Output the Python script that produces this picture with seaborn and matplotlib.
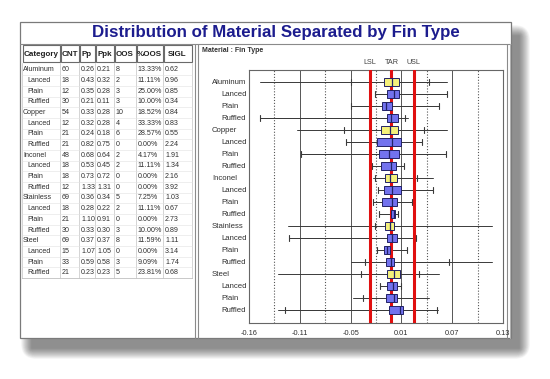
import numpy as np
import pandas as pd
import matplotlib
matplotlib.use("Agg")
import matplotlib.pyplot as plt
import seaborn as sns
from matplotlib.patches import Rectangle, FancyBboxPatch

# ---------------- data ----------------
categories = ["Aluminum", "Lanced", "Plain", "Ruffled",
              "Copper", "Lanced", "Plain", "Ruffled",
              "Inconel", "Lanced", "Plain", "Ruffled",
              "Stainless", "Lanced", "Plain", "Ruffled",
              "Steel", "Lanced", "Plain", "Ruffled"]
is_material = [True, False, False, False] * 5

cnt = [60, 18, 12, 30, 54, 12, 21, 21, 48, 18, 18, 12, 69, 18, 21, 30, 69, 15, 33, 21]
pp = ["0.26", "0.43", "0.35", "0.21", "0.33", "0.32", "0.24", "0.82", "0.68", "0.53",
      "0.73", "1.33", "0.36", "0.28", "1.10", "0.33", "0.37", "1.07", "0.59", "0.23"]
ppk = ["0.21", "0.32", "0.28", "0.11", "0.28", "0.28", "0.18", "0.75", "0.64", "0.45",
       "0.72", "1.31", "0.34", "0.22", "0.91", "0.30", "0.37", "1.05", "0.58", "0.23"]
oos = [8, 2, 3, 3, 10, 4, 6, 0, 2, 2, 0, 0, 5, 2, 0, 3, 8, 0, 3, 5]
pct_oos = ["13.33%", "11.11%", "25.00%", "10.00%", "18.52%", "33.33%", "28.57%", "0.00%",
           "4.17%", "11.11%", "0.00%", "0.00%", "7.25%", "11.11%", "0.00%", "10.00%",
           "11.59%", "0.00%", "9.09%", "23.81%"]
sigl = ["0.62", "0.96", "0.85", "0.34", "0.84", "0.83", "0.55", "2.24", "1.91", "1.34",
        "2.16", "3.92", "1.03", "0.67", "2.73", "0.89", "1.11", "3.14", "1.74", "0.68"]
table_header = ["Category", "CNT", "Pp", "Ppk", "OOS", "%OOS", "SIGL"]

range_lo = [-0.147, -0.016, -0.044, -0.147, -0.105, -0.049, -0.101, -0.020, -0.018, -0.013,
            -0.018, -0.012, -0.115, -0.114, -0.014, -0.044, -0.127, -0.011, -0.041, -0.127]
range_hi = [0.066, 0.066, 0.057, 0.022, 0.066, 0.037, 0.065, 0.017, 0.050, 0.050,
            0.026, 0.010, 0.117, 0.031, 0.020, 0.117, 0.057, 0.013, 0.046, 0.056]
cap_lo = [-0.044, -0.016, -0.044, -0.147, -0.052, -0.049, -0.101, -0.019, -0.016, -0.013,
          -0.018, -0.012, -0.016, -0.114, -0.014, -0.028, -0.032, -0.011, -0.030, -0.119]
cap_hi = [0.046, 0.066, 0.057, 0.018, 0.040, 0.037, 0.065, 0.017, 0.032, 0.050,
          0.026, 0.010, 0.027, 0.031, 0.020, 0.068, 0.034, 0.013, 0.028, 0.055]
q1 = [-0.006, -0.002, -0.008, -0.003, -0.009, -0.014, -0.012, -0.0095, -0.005, -0.006,
      -0.008, 0.002, -0.005, -0.002, -0.006, -0.004, -0.002, -0.002, -0.004, 0.000]
q3 = [0.011, 0.011, 0.0034, 0.010, 0.010, 0.014, 0.011, 0.008, 0.009, 0.014,
      0.009, 0.007, 0.006, 0.009, 0.001, 0.006, 0.012, 0.009, 0.009, 0.016]
median = [0.003, 0.006, -0.004, 0.002, 0.0015, 0.003, 0.000, 0.002, 0.001, 0.003,
          0.003, 0.005, 0.001, 0.003, -0.002, 0.002, 0.005, 0.004, 0.005, 0.012]

spec_names = ["LSL", "TAR", "USL"]
spec_values = [-0.022, 0.0026, 0.028]

x_ticks = list(np.linspace(-0.16, 0.13, 6))
x_tick_labels = ["-0.16", "-0.11", "-0.05", "0.01", "0.07", "0.13"]

title = "Distribution of Material Separated by Fin Type"

# ---------------- style ----------------
sns.set_style("white")
plt.rcParams["font.family"] = ["Liberation Sans", "DejaVu Sans"]

W, H = 550, 379
fig = plt.figure(figsize=(W / 100, H / 100), dpi=100)
fig.patch.set_facecolor("white")

bg = fig.add_axes([0, 0, 1, 1], zorder=0)
bg.set_xlim(0, W)
bg.set_ylim(H, 0)
bg.axis("off")

# window + soft shadow (offset to lower right)
L, T, R, B = 20, 22, 511, 338
for i in range(22, 0, -1):
    bg.add_patch(FancyBboxPatch((L + 12 - i * 0.5, T + 14 - i * 0.5),
                                R - L - 4 + i * 1.0, B - T - 4 + i * 1.0,
                                boxstyle="round,pad=0,rounding_size=%g" % (i * 0.7),
                                facecolor="black", alpha=0.022, edgecolor="none"))
bg.add_patch(Rectangle((L, T), R - L, B - T, facecolor="white", edgecolor="#7a7a7a", lw=0.9))

# title
bg.text((L + R) / 2 + 10, 33, title, ha="center", va="center", fontsize=12.2,
        fontweight="bold", color="#1c1c8e")
bg.plot([L, R], [43.5, 43.5], color="#8a8a8a", lw=0.8)

# panel separators
bg.plot([195, 195], [43.5, B], color="#8a8a8a", lw=0.8)
bg.plot([197.5, 197.5], [43.5, B], color="#8a8a8a", lw=0.8)
bg.plot([507, 507], [43.5, B], color="#8a8a8a", lw=0.8)
bg.plot([509.5, 509.5], [43.5, B], color="#b0b0b0", lw=0.8)

# ---------------- table ----------------
col_edges = [22, 60, 79, 95, 114, 136, 163, 192]
hdr_top, hdr_bot = 45, 62
row_y0, row_dy = 69.8, 10.68
for j, h in enumerate(table_header):
    x0, x1 = col_edges[j], col_edges[j + 1]
    bg.add_patch(Rectangle((x0 + 0.5, hdr_top), x1 - x0 - 1, hdr_bot - hdr_top,
                           facecolor="white", edgecolor="#6a6a6a", lw=0.8))
    bg.text((x0 + x1) / 2, (hdr_top + hdr_bot) / 2 + 0.5, h, ha="center", va="center",
            fontsize=5.8, fontweight="bold", color="#202020")
tab_bottom = row_y0 + 19.5 * row_dy
for e in col_edges:
    bg.plot([e, e], [hdr_bot + 1, tab_bottom], color="#c4c4c4", lw=0.5)
bg.plot([col_edges[0], col_edges[-1]], [tab_bottom, tab_bottom], color="#9a9a9a", lw=0.6)
for i in range(20):
    yy = row_y0 + i * row_dy
    bg.plot([col_edges[0], col_edges[-1]], [yy + row_dy / 2, yy + row_dy / 2],
            color="#e2e2e2", lw=0.4)
    name_x = col_edges[0] + (1 if is_material[i] else 5)
    vals = [str(cnt[i]), pp[i], ppk[i], str(oos[i]), pct_oos[i], sigl[i]]
    bg.text(name_x, yy, categories[i], ha="left", va="center", fontsize=5.1, color="#303030")
    for j, v in enumerate(vals):
        bg.text(col_edges[j + 1] + 2, yy, v, ha="left", va="center", fontsize=5.1,
                color="#303030")

# ---------------- plot panel ----------------
bg.text(202, 50, "Material : Fin Type", ha="left", va="center", fontsize=5,
        fontweight="bold", color="#303030")

px0, px1, py0, py1 = 249, 503, 70, 323
ax = fig.add_axes([px0 / W, 1 - py1 / H, (px1 - px0) / W, (py1 - py0) / H], zorder=2)
ax.set_facecolor("none")
rows = np.arange(len(categories))
ax.set_xlim(-0.16, 0.13)
ax.set_ylim(20.08, -1)

# grid
for xt in x_ticks[1:-1]:
    ax.axvline(xt, color="#555555", lw=0.7, zorder=1)
mids = [(a + b) / 2 for a, b in zip(x_ticks[:-1], x_ticks[1:])]
for xm in mids:
    ax.axvline(xm, color="#555555", lw=0.8, ls=(0, (1, 1.6)), zorder=1)

# full range lines (seaborn)
rng_df = pd.DataFrame({
    "value": range_lo + range_hi,
    "row": list(rows) + list(rows),
})
sns.lineplot(data=rng_df, x="value", y="row", units="row", estimator=None, sort=True,
             color="#3a3a3a", lw=0.7, ax=ax, zorder=2, legend=False)

# boxes
stats = []
for i in rows:
    stats.append(dict(med=median[i], q1=q1[i], q3=q3[i], whislo=cap_lo[i], whishi=cap_hi[i],
                      fliers=[]))
bp = ax.bxp(stats, positions=rows, orientation="horizontal", widths=0.7, patch_artist=True,
            capwidths=0.5, showfliers=False,
            boxprops=dict(edgecolor="#222266", lw=0.7),
            whiskerprops=dict(color="#3a3a3a", lw=0.7),
            capprops=dict(color="#3a3a3a", lw=0.8),
            medianprops=dict(color="#222266", lw=0.9))
for patch, mat in zip(bp["boxes"], is_material):
    patch.set_facecolor("#f4f07a" if mat else "#7272ee")
    patch.set_zorder(4)
for m in bp["medians"]:
    m.set_zorder(5)

# spec lines
for name, v in zip(spec_names, spec_values):
    ax.axvline(v, color="#e01010", lw=2.2, zorder=3)
    ax.text(v, -1.35, name, ha="center", va="bottom", fontsize=5.2, color="#404040",
            clip_on=False)

ax.set_yticks(rows)
ax.set_yticklabels([])
for i in rows:
    ax.text(-0.16 - (0.0425 if is_material[i] else 0.032), i, categories[i], ha="left",
            va="center", fontsize=5.6, color="#303030", clip_on=False)
ax.tick_params(axis="y", length=0)
ax.set_xticks(x_ticks)
ax.set_xticklabels(x_tick_labels, fontsize=5.3, color="#303030")
ax.set_xticks(mids, minor=True)
ax.tick_params(axis="x", which="major", length=3, width=0.6, color="#555555", pad=2)
ax.tick_params(axis="x", which="minor", length=2, width=0.6, color="#555555")
ax.set_xlabel("")
ax.set_ylabel("")
for s in ax.spines.values():
    s.set_visible(True)
    s.set_color("#666666")
    s.set_linewidth(0.8)

fig.savefig("out.png", dpi=100, facecolor="white")
